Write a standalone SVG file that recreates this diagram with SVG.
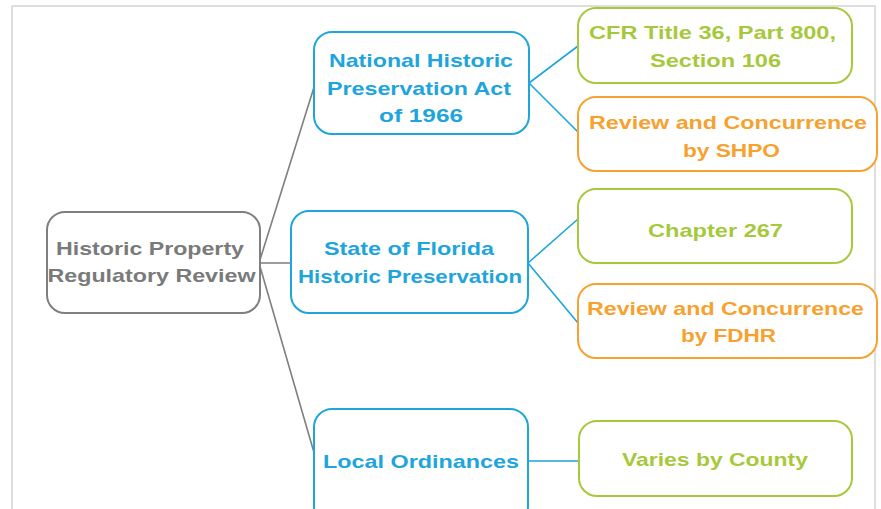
<svg xmlns="http://www.w3.org/2000/svg" width="881" height="509" viewBox="0 0 881 509">
<style>
.box{fill:#fff;stroke-width:2}
.t{font-family:"Liberation Sans",Arial,sans-serif;font-weight:bold;font-size:19px;text-anchor:middle}
.gray{stroke:#7f7f7f}.grayt{fill:#7a7a7a}
.blue{stroke:#1ea5dc}.bluet{fill:#1ea5dc}
.green{stroke:#a6c93c}.greent{fill:#a6c93c}
.orange{stroke:#f7a12f}.oranget{fill:#f7a12f}
.c{fill:none;stroke-width:1.6}
</style>
<rect x="0" y="0" width="881" height="509" fill="#fff"/>
<rect x="12" y="6" width="863" height="510" fill="#fff" stroke="#d4d4d4" stroke-width="1.5"/>
<g id="connectors">
<path class="c gray" d="M259 263 L315 84 M259 263 L291 263 M259 263 L315 456"/>
<path class="c blue" d="M529 83 L578 46 M529 83 L578 132 M528 263 L578 219 M528 263 L578 323 M528 461 L579 461"/>
</g>
<g id="root">
<rect class="box gray" x="47" y="212" width="213" height="101" rx="18"/>
<text class="t grayt" x="150" y="255" textLength="188" lengthAdjust="spacingAndGlyphs">Historic Property</text>
<text class="t grayt" x="151.5" y="282" textLength="208" lengthAdjust="spacingAndGlyphs">Regulatory Review</text>
</g>
<g id="nhpa">
<rect class="box blue" x="314" y="32" width="215" height="102" rx="18"/>
<text class="t bluet" x="421" y="67" textLength="184" lengthAdjust="spacingAndGlyphs">National Historic</text>
<text class="t bluet" x="419" y="94.5" textLength="184" lengthAdjust="spacingAndGlyphs">Preservation Act</text>
<text class="t bluet" x="421" y="122" textLength="84" lengthAdjust="spacingAndGlyphs">of 1966</text>
</g>
<g id="florida">
<rect class="box blue" x="291" y="211" width="237" height="102" rx="18"/>
<text class="t bluet" x="409" y="255" textLength="170" lengthAdjust="spacingAndGlyphs">State of Florida</text>
<text class="t bluet" x="410" y="282.5" textLength="224" lengthAdjust="spacingAndGlyphs">Historic Preservation</text>
</g>
<g id="local">
<rect class="box blue" x="314" y="409" width="214" height="115" rx="18"/>
<text class="t bluet" x="421" y="468" textLength="196" lengthAdjust="spacingAndGlyphs">Local Ordinances</text>
</g>
<g id="cfr">
<rect class="box green" x="578" y="8" width="274" height="75" rx="18"/>
<text class="t greent" x="712.5" y="39" textLength="247" lengthAdjust="spacingAndGlyphs">CFR Title 36, Part 800,</text>
<text class="t greent" x="715.5" y="66.5" textLength="131" lengthAdjust="spacingAndGlyphs">Section 106</text>
</g>
<g id="shpo">
<rect class="box orange" x="578" y="97" width="299" height="74" rx="18"/>
<text class="t oranget" x="728" y="129" textLength="278" lengthAdjust="spacingAndGlyphs">Review and Concurrence</text>
<text class="t oranget" x="731.5" y="156.5" textLength="97" lengthAdjust="spacingAndGlyphs">by SHPO</text>
</g>
<g id="ch267">
<rect class="box green" x="578" y="189" width="274" height="74" rx="18"/>
<text class="t greent" x="715.5" y="236.5" textLength="135" lengthAdjust="spacingAndGlyphs">Chapter 267</text>
</g>
<g id="fdhr">
<rect class="box orange" x="578" y="284" width="299" height="74" rx="18"/>
<text class="t oranget" x="725.5" y="315" textLength="277" lengthAdjust="spacingAndGlyphs">Review and Concurrence</text>
<text class="t oranget" x="728.5" y="341.5" textLength="95" lengthAdjust="spacingAndGlyphs">by FDHR</text>
</g>
<g id="county">
<rect class="box green" x="579" y="421" width="273" height="75" rx="18"/>
<text class="t greent" x="715" y="466" textLength="186" lengthAdjust="spacingAndGlyphs">Varies by County</text>
</g>
</svg>
